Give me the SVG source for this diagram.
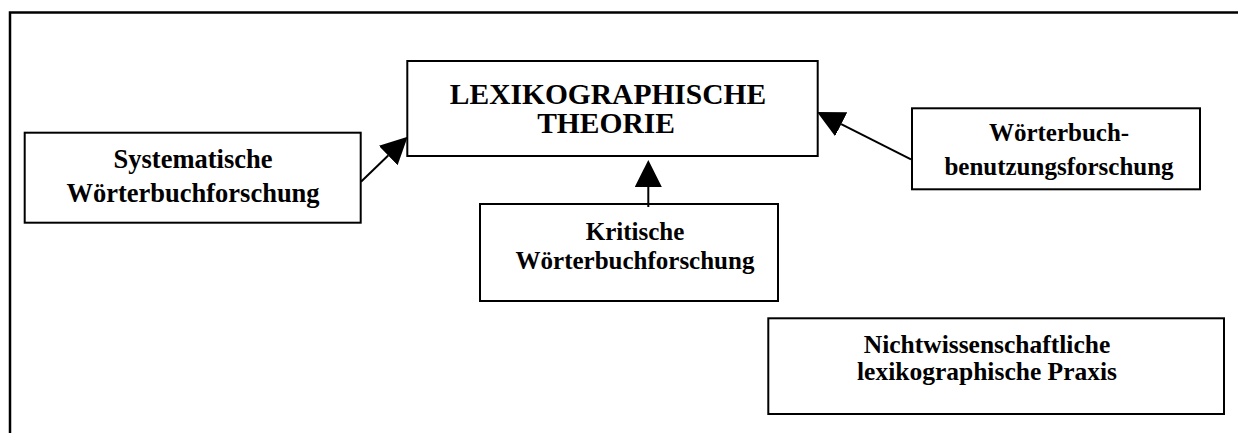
<svg xmlns="http://www.w3.org/2000/svg" width="1238" height="433" viewBox="0 0 1238 433">
  <style>
    .box { fill: #fff; stroke: #000; stroke-width: 2; }
    .frame { fill: none; stroke: #000; stroke-width: 2.5; }
    .lbl { font-family: "Liberation Serif", "Times New Roman", serif; font-weight: bold; fill: #000; text-anchor: middle; }
    .link { stroke: #000; stroke-width: 2; fill: none; }
  </style>
  <defs>
    <marker id="head" viewBox="0 0 27 27" markerWidth="27" markerHeight="27" markerUnits="userSpaceOnUse" refX="0" refY="13.5" orient="auto">
      <path d="M0,0 L27,13.5 L0,27 Z" fill="#000"/>
    </marker>
  </defs>

  <rect width="1238" height="433" fill="#fff"/>

  <!-- open frame: top rule and left rule -->
  <path class="frame" d="M10,433 L10,12.5 L1238,12.5"/>

  <g id="theorie">
    <rect class="box" x="407.3" y="61" width="410.4" height="95"/>
    <text class="lbl" x="608" y="104" font-size="29.5">LEXIKOGRAPHISCHE</text>
    <text class="lbl" x="606" y="133" font-size="29.5">THEORIE</text>
  </g>

  <g id="systematische">
    <rect class="box" x="24.7" y="132.7" width="336" height="90"/>
    <text class="lbl" x="193" y="168" font-size="26.5">Systematische</text>
    <text class="lbl" x="193" y="202" font-size="26.5">Wörterbuchforschung</text>
  </g>

  <g id="kritische">
    <rect class="box" x="480" y="204" width="298" height="97"/>
    <text class="lbl" x="635" y="239.5" font-size="25">Kritische</text>
    <text class="lbl" x="635" y="269" font-size="25">Wörterbuchforschung</text>
  </g>

  <g id="benutzung">
    <rect class="box" x="912" y="108.3" width="288" height="81"/>
    <text class="lbl" x="1059" y="141" font-size="25">Wörterbuch-</text>
    <text class="lbl" x="1059" y="175" font-size="25">benutzungsforschung</text>
  </g>

  <g id="praxis">
    <rect class="box" x="768.3" y="318.3" width="455.7" height="95.7"/>
    <text class="lbl" x="987" y="352.5" font-size="25.5">Nichtwissenschaftliche</text>
    <text class="lbl" x="987" y="380" font-size="25.5">lexikographische Praxis</text>
  </g>

  <g id="connectors">
    <line class="link" x1="361" y1="181.7" x2="388.2" y2="155.5" marker-end="url(#head)"/>
    <line class="link" x1="648.3" y1="207" x2="648.3" y2="187" stroke-width="3" marker-end="url(#head)"/>
    <line class="link" x1="911" y1="159.3" x2="841.2" y2="124.2" marker-end="url(#head)"/>
  </g>
</svg>
